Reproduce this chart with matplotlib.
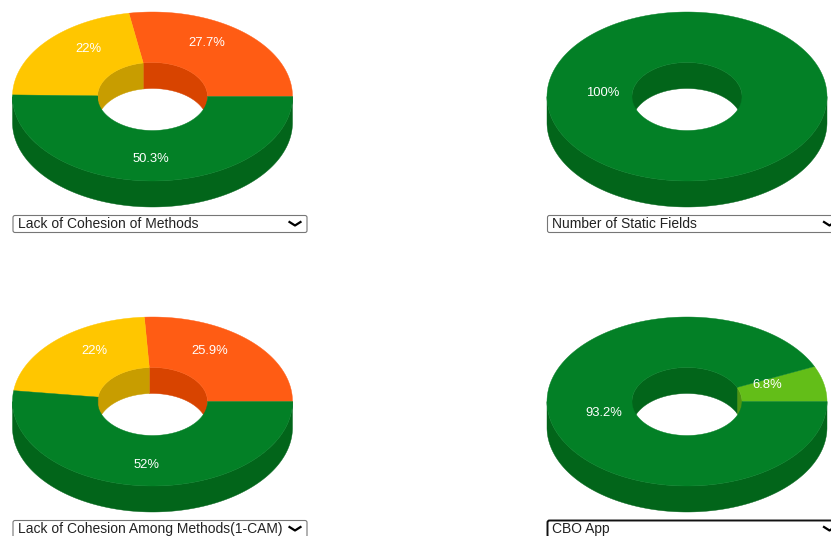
import numpy as np
import matplotlib
matplotlib.use("Agg")
import matplotlib.pyplot as plt
from matplotlib.patches import FancyBboxPatch

plt.rcParams['font.family'] = ['Liberation Sans', 'DejaVu Sans']

## values (percent, counter clockwise from 3 o'clock)
lcom_values = [27.7, 22, 50.3]
lcom_colors = ["orange", "yellow", "green"]
nosf_values = [100]
nosf_colors = ["green"]
cam_values = [25.9, 22, 52]
cam_colors = ["orange", "yellow", "green"]
cbo_values = [6.8, 93.2]
cbo_colors = ["lime", "green"]

titles = ["Lack of Cohesion of Methods", "Number of Static Fields",
          "Lack of Cohesion Among Methods(1-CAM)", "CBO App"]

top_col = {"orange": "#ff5c14", "yellow": "#ffc600", "green": "#038026", "lime": "#63be18"}
side_col = {"orange": "#d84400", "yellow": "#c89d00", "green": "#02651a", "lime": "#4f9512"}

RX, RY = 140.0, 84.5
IN_RX, IN_RY = 55.0, 34.0
DEPTH = 26.0


def arc(cx, cy, rx, ry, a0, a1):
    t = np.radians(np.linspace(a0, a1, max(int(abs(a1 - a0)) * 2, 2) + 1))
    return cx + rx * np.cos(t), cy - ry * np.sin(t)


def wall(ax, cx, cy, rx, ry, a0, a1, col):
    if a1 <= a0:
        return
    x, y = arc(cx, cy, rx, ry, a0, a1)
    ax.fill(np.r_[x, x[::-1]], np.r_[y, y[::-1] + DEPTH], color=col, lw=0.3)


def donut(ax, cx, cy, values, names, title, box_y, label_pos, box_w, focused=False):
    ang = np.cumsum([0] + list(values)) / np.sum(values) * 360.0
    # outer wall (front half) and inner wall (back half) first, top face over them
    for i, name in enumerate(names):
        wall(ax, cx, cy, RX, RY, max(ang[i], 180), max(ang[i + 1], 180), side_col[name])
        wall(ax, cx, cy, IN_RX, IN_RY, min(ang[i], 180), min(ang[i + 1], 180), side_col[name])
    for i, name in enumerate(names):
        ox, oy = arc(cx, cy, RX, RY, ang[i], ang[i + 1])
        ix, iy = arc(cx, cy, IN_RX, IN_RY, ang[i], ang[i + 1])
        ax.fill(np.r_[ox, ix[::-1]], np.r_[oy, iy[::-1]], color=top_col[name], lw=0.3)
    for (lx, ly), v in zip(label_pos, values):
        ax.text(lx, ly, "%g%%" % v, color="white", fontsize=9.4, ha="center", va="center")

    # the drop down under the chart
    x0 = cx - 140
    ec = "#111111" if focused else "#767676"
    ax.add_patch(FancyBboxPatch((x0 + 0.5, box_y + 0.5), box_w - 1, 17, boxstyle="round,pad=0,rounding_size=2",
                                fc="white", ec=ec, lw=1.4 if focused else 0.8))
    ax.text(x0 + 5, box_y + 9, title, color="#222222", fontsize=10, ha="left", va="center")
    ax.plot([x0 + box_w - 18, x0 + box_w - 12.5, x0 + box_w - 7],
            [box_y + 7, box_y + 10.5, box_y + 7], color="black", lw=1.6)


fig = plt.figure(figsize=(8.31, 5.36), dpi=100)
ax = fig.add_axes([0, 0, 1, 1])
ax.set_xlim(0, 831)
ax.set_ylim(536, 0)
ax.axis("off")

donut(ax, 152.5, 96.5, lcom_values, lcom_colors, titles[0], 215,
      [(206.5, 42.5), (88, 49.5), (151, 159.5)], 295)
donut(ax, 687, 96.5, nosf_values, nosf_colors, titles[1], 215, [(602.5, 93.5)], 295)
donut(ax, 152.5, 401.5, cam_values, cam_colors, titles[2], 520,
      [(209.5, 350.5), (94.5, 350.5), (147, 464.5)], 295)
donut(ax, 687, 401.5, cbo_values, cbo_colors, titles[3], 520,
      [(767.5, 385.5), (604, 412.5)], 295, focused=True)

fig.savefig("out.png", dpi=100)
